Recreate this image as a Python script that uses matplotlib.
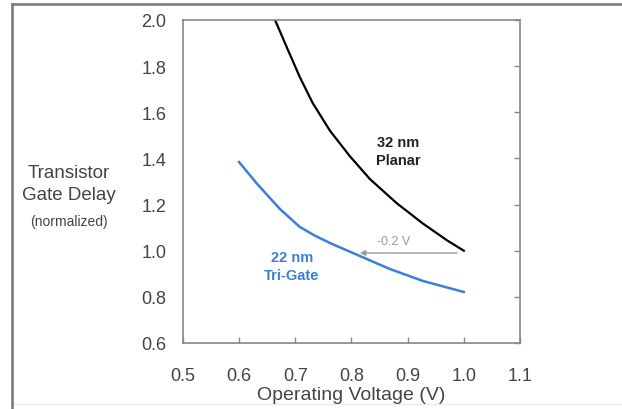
import numpy as np
import matplotlib.pyplot as plt
from matplotlib.lines import Line2D

plt.rcParams['font.family'] = ['Liberation Sans', 'DejaVu Sans']

# 32 nm planar (black curve)
planar_v = [0.664, 0.687, 0.708, 0.731, 0.762, 0.797, 0.833, 0.881, 0.927, 0.970, 1.000]
planar_delay = [2.000, 1.870, 1.753, 1.640, 1.519, 1.410, 1.310, 1.205, 1.118, 1.045, 1.000]

# 22 nm tri-gate (blue curve)
trigate_v = [0.600, 0.632, 0.655, 0.673, 0.708, 0.735, 0.762, 0.815, 0.868, 0.927, 1.000]
trigate_delay = [1.384, 1.290, 1.228, 1.180, 1.103, 1.065, 1.033, 0.977, 0.921, 0.869, 0.821]

x_ticks = [0.5, 0.6, 0.7, 0.8, 0.9, 1.0, 1.1]
y_ticks = [0.6, 0.8, 1.0, 1.2, 1.4, 1.6, 1.8, 2.0]

BLUE = '#3b7fd6'
GRAY = '#888888'
TEXT = '#444444'

fig = plt.figure(figsize=(6.22, 4.10), dpi=100)
ax = fig.add_axes([0.294, 0.161, 0.542, 0.788])

ax.plot(planar_v, planar_delay, color='black', linewidth=1.6)
ax.plot(trigate_v, trigate_delay, color=BLUE, linewidth=1.8)

# -0.2 V shift arrow
ax.annotate('', xy=(0.81, 0.99), xytext=(0.993, 0.99),
            arrowprops=dict(arrowstyle='-|>', color='#999999', lw=1.0,
                            mutation_scale=8))
ax.text(0.875, 1.042, '-0.2 V', color='#999999', fontsize=9, ha='center',
        va='center')

ax.text(0.883, 1.432, '32 nm\nPlanar', fontsize=10.5, fontweight='bold',
        color='#222222', ha='center', va='center', linespacing=1.3)
ax.text(0.694, 0.934, '22 nm\nTri-Gate', fontsize=10.5, fontweight='bold',
        color=BLUE, ha='center', va='center', linespacing=1.3)

ax.set_xlim(0.5, 1.1)
ax.set_ylim(0.6, 2.0)
ax.set_xticks(x_ticks)
ax.set_yticks(y_ticks)
ax.set_xticklabels([f'{v:.1f}' for v in x_ticks])
ax.set_yticklabels([f'{v:.1f}' for v in y_ticks])

ax.tick_params(axis='both', direction='in', colors=GRAY, labelcolor=TEXT,
               labelsize=13, length=4, width=1)
ax.tick_params(axis='y', left=False, right=True, pad=12)
ax.tick_params(axis='x', top=False, pad=17)
for s in ax.spines.values():
    s.set_color(GRAY)
    s.set_linewidth(1.2)

ax.set_xlabel('Operating Voltage (V)', fontsize=14, color=TEXT, labelpad=2)

fig.text(0.111, 0.55, 'Transistor\nGate Delay', fontsize=13.5, color=TEXT,
         ha='center', va='center', linespacing=1.44)
fig.text(0.111, 0.459, '(normalized)', fontsize=10, color=TEXT,
         ha='center', va='center')

# outer frame (top and left edges)
fig.add_artist(Line2D([12 / 622, 1.0], [1 - 5 / 410, 1 - 5 / 410],
                      transform=fig.transFigure, color='#777777', lw=1.8))
fig.add_artist(Line2D([12 / 622, 12 / 622], [0.0, 1 - 5 / 410],
                      transform=fig.transFigure, color='#777777', lw=1.8))
fig.add_artist(Line2D([12 / 622, 1.0], [5 / 410, 5 / 410],
                      transform=fig.transFigure, color='#ececec', lw=1.0,
                      zorder=-1))

fig.savefig('out.png', dpi=100)
